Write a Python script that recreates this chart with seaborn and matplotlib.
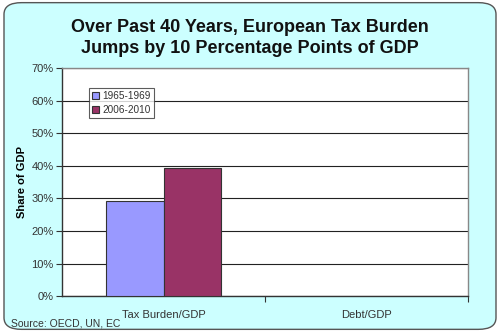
import matplotlib
matplotlib.use("Agg")
import matplotlib.pyplot as plt
import seaborn as sns
import pandas as pd
from matplotlib.patches import FancyBboxPatch
from matplotlib.ticker import PercentFormatter, FixedLocator

categories = ["Tax Burden/GDP", "Debt/GDP"]
series = ["1965-1969", "2006-2010"]
tax_values = [0.292, 0.392]
colors = ["#9999ff", "#993366"]

df = pd.DataFrame({"category": ["Tax Burden/GDP"] * 2,
                   "period": series,
                   "value": tax_values})

sns.set_theme(style="white")
plt.rcParams['font.family'] = ['Liberation Sans', 'DejaVu Sans']

fig = plt.figure(figsize=(5.0, 3.32), dpi=100)
fig.patch.set_facecolor("white")
bg = FancyBboxPatch((0.008, 0.008), 0.984, 0.984,
                    boxstyle="round,pad=0,rounding_size=0.035",
                    transform=fig.transFigure, facecolor="#ccffff",
                    edgecolor="#555555", linewidth=1.0, zorder=-10)
fig.patches.append(bg)

ax = fig.add_axes([0.124, 0.108, 0.812, 0.687])
sns.barplot(data=df, x="category", y="value", hue="period", order=categories,
            hue_order=series, palette=colors, width=0.57, ax=ax,
            edgecolor="#333333", linewidth=0.8, saturation=1, zorder=3)

ax.set_facecolor("white")
ax.set_ylim(0, 0.70)
ax.set_xlim(-0.5, 1.5)
ax.yaxis.set_major_locator(FixedLocator([i / 10 for i in range(8)]))
ax.yaxis.set_major_formatter(PercentFormatter(1.0, decimals=0))
ax.grid(axis="y", color="#222222", linewidth=0.8, zorder=0)
ax.set_axisbelow(True)
for s in ["top", "right"]:
    ax.spines[s].set_color("#888888")
    ax.spines[s].set_linewidth(1.0)
for s in ["left", "bottom"]:
    ax.spines[s].set_color("#333333")
    ax.spines[s].set_linewidth(1.0)

ax.tick_params(axis="y", which="major", direction="out", length=4, width=0.8,
               color="#333333", labelsize=8, labelcolor="#333333", left=True, pad=2)
ax.set_xticks([0, 1])
ax.set_xticklabels(categories)
ax.tick_params(axis="x", which="major", length=0, labelsize=8, labelcolor="#333333", pad=10)
ax.set_xticks([0.5, 1.5], minor=True)
ax.tick_params(axis="x", which="minor", direction="out", length=4, width=0.8,
               color="#333333", bottom=True)

ax.set_xlabel("")
ax.set_ylabel("Share of GDP", fontsize=8, fontweight="bold", color="black", labelpad=3)

fig.text(0.5, 0.886, "Over Past 40 Years, European Tax Burden\nJumps by 10 Percentage Points of GDP",
         ha="center", va="center", fontsize=13, fontweight="bold", color="#111111",
         linespacing=1.3)
fig.text(0.022, 0.012, "Source: OECD, UN, EC", ha="left", va="bottom", fontsize=7.5, color="#333333")

leg = ax.legend(loc="upper left", bbox_to_anchor=(0.055, 0.935), frameon=True, fontsize=7.2,
                handlelength=0.7, handleheight=0.7, handletextpad=0.3, borderpad=0.3,
                labelspacing=0.45, fancybox=False, title=None)
leg.get_frame().set_edgecolor("#333333")
leg.get_frame().set_linewidth(0.8)
for t in leg.get_texts():
    t.set_color("#333333")

fig.savefig("out.png", dpi=100, facecolor=fig.get_facecolor())
